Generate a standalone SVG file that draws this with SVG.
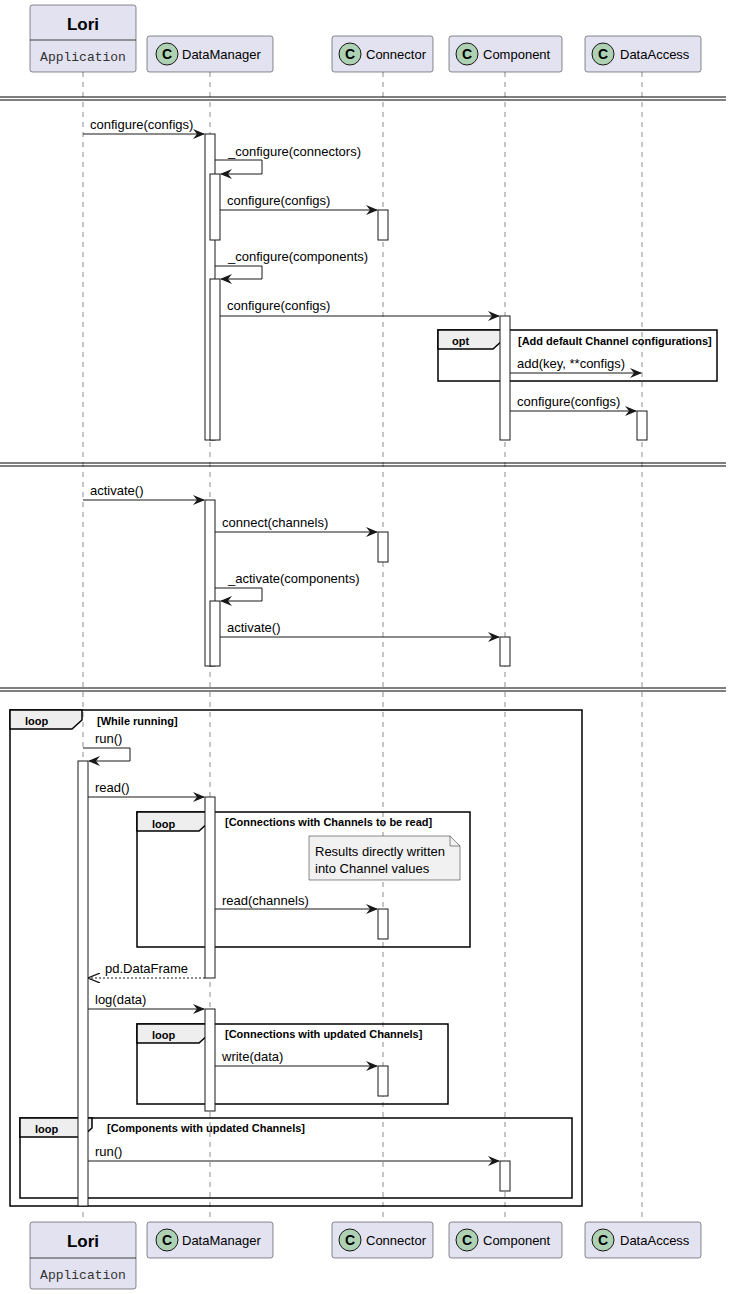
<svg xmlns="http://www.w3.org/2000/svg" width="732" height="1294" viewBox="0 0 732 1294">
<style>
.hd{fill:#E2E2F0;stroke:#181818;stroke-width:0.5}
.t{font-family:"Liberation Sans",Arial,sans-serif;font-size:13px;fill:#000}
.b{font-family:"Liberation Sans",Arial,sans-serif;font-size:11px;font-weight:bold;fill:#000}
.ll{stroke:#181818;stroke-width:0.5;stroke-dasharray:5,5}
.act{fill:#fff;stroke:#181818;stroke-width:1}
.m{stroke:#181818;stroke-width:1;fill:none}
.fr{fill:none;stroke:#000;stroke-width:1.5}
.tab{fill:#EEEEEE;stroke:#000;stroke-width:1.5}
.sep{stroke:#000;stroke-width:1.2}
</style>
<defs>
<marker id="a" viewBox="0 0 12 10" refX="11" refY="5" markerWidth="12" markerHeight="10" markerUnits="userSpaceOnUse" orient="auto"><path d="M0,0 L12,5 L0,10 L4,5 Z" fill="#181818"/></marker>
<marker id="o" viewBox="0 0 12 10" refX="11" refY="5" markerWidth="12" markerHeight="10" markerUnits="userSpaceOnUse" orient="auto"><path d="M0,0 L12,5 L0,10" fill="none" stroke="#181818" stroke-width="1.3"/></marker>
<g id="ci"><circle r="11" fill="#ADD1B2" stroke="#181818" stroke-width="1"/><text x="0" y="5" text-anchor="middle" font-family="Liberation Sans,Arial,sans-serif" font-size="14" font-weight="bold">C</text></g>
</defs>
<g id="lifelines">
<line class="ll" x1="83" y1="72" x2="83" y2="1222"/>
<line class="ll" x1="210" y1="72" x2="210" y2="1222"/>
<line class="ll" x1="383" y1="72" x2="383" y2="1222"/>
<line class="ll" x1="505" y1="72" x2="505" y2="1222"/>
<line class="ll" x1="642" y1="72" x2="642" y2="1222"/>
</g>
<g id="separators">
<line class="sep" x1="0" y1="97" x2="726" y2="97"/><line class="sep" x1="0" y1="100" x2="726" y2="100"/>
<line class="sep" x1="0" y1="463" x2="726" y2="463"/><line class="sep" x1="0" y1="466" x2="726" y2="466"/>
<line class="sep" x1="0" y1="688" x2="726" y2="688"/><line class="sep" x1="0" y1="691" x2="726" y2="691"/>
</g>
<g id="participants">
<g id="lori-top"><rect class="hd" x="30" y="5" width="106" height="67" rx="2.5"/><line x1="30" y1="40" x2="136" y2="40" stroke="#181818" stroke-width="0.8"/><text x="83" y="30" text-anchor="middle" font-family="Liberation Sans,Arial,sans-serif" font-size="17" font-weight="bold">Lori</text><text x="83" y="61" text-anchor="middle" font-family="Liberation Mono,monospace" font-size="13" fill="#333">Application</text></g>
<g id="dm-top"><rect class="hd" x="147" y="36" width="126" height="36" rx="2.5"/><use href="#ci" x="167" y="54"/><text class="t" x="182" y="59">DataManager</text></g>
<g id="conn-top"><rect class="hd" x="332" y="36" width="101" height="36" rx="2.5"/><use href="#ci" x="350" y="54"/><text class="t" x="366" y="59">Connector</text></g>
<g id="comp-top"><rect class="hd" x="449" y="36" width="113" height="36" rx="2.5"/><use href="#ci" x="467" y="54"/><text class="t" x="483" y="59">Component</text></g>
<g id="da-top"><rect class="hd" x="585" y="36" width="116" height="36" rx="2.5"/><use href="#ci" x="603" y="54"/><text class="t" x="620" y="59">DataAccess</text></g>
<g id="lori-bot"><rect class="hd" x="30" y="1222" width="106" height="67" rx="2.5"/><line x1="30" y1="1258" x2="136" y2="1258" stroke="#181818" stroke-width="0.8"/><text x="83" y="1247" text-anchor="middle" font-family="Liberation Sans,Arial,sans-serif" font-size="17" font-weight="bold">Lori</text><text x="83" y="1279" text-anchor="middle" font-family="Liberation Mono,monospace" font-size="13" fill="#333">Application</text></g>
<g id="dm-bot"><rect class="hd" x="147" y="1222" width="126" height="36" rx="2.5"/><use href="#ci" x="167" y="1240"/><text class="t" x="182" y="1245">DataManager</text></g>
<g id="conn-bot"><rect class="hd" x="332" y="1222" width="101" height="36" rx="2.5"/><use href="#ci" x="350" y="1240"/><text class="t" x="366" y="1245">Connector</text></g>
<g id="comp-bot"><rect class="hd" x="449" y="1222" width="113" height="36" rx="2.5"/><use href="#ci" x="467" y="1240"/><text class="t" x="483" y="1245">Component</text></g>
<g id="da-bot"><rect class="hd" x="585" y="1222" width="116" height="36" rx="2.5"/><use href="#ci" x="603" y="1240"/><text class="t" x="620" y="1245">DataAccess</text></g>
</g>
<g id="frames">
<rect class="fr" x="438" y="330" width="279" height="51"/><path class="tab" d="M438,330 H503 V340 L493,349 H438 Z"/><text class="b" x="452" y="345" font-size="13">opt</text><text class="b" x="518" y="345">[Add default Channel configurations]</text>
<rect class="fr" x="10" y="710" width="572" height="496"/><path class="tab" d="M10,710 H82 V720 L72,729 H10 Z"/><text class="b" x="25" y="725" font-size="13">loop</text><text class="b" x="97" y="725">[While running]</text>
<rect class="fr" x="137" y="812" width="333" height="135"/><path class="tab" d="M137,812 H209 V822 L199,831 H137 Z"/><text class="b" x="152" y="828" font-size="13">loop</text><text class="b" x="225" y="826">[Connections with Channels to be read]</text>
<rect class="fr" x="137" y="1024" width="311" height="80"/><path class="tab" d="M137,1024 H209 V1034 L199,1043 H137 Z"/><text class="b" x="152" y="1039" font-size="13">loop</text><text class="b" x="225" y="1038">[Connections with updated Channels]</text>
<rect class="fr" x="20" y="1118" width="552" height="80"/><path class="tab" d="M20,1118 H92 V1128 L82,1137 H20 Z"/><text class="b" x="35" y="1133" font-size="13">loop</text><text class="b" x="107" y="1132">[Components with updated Channels]</text>
<g id="note"><path d="M309,836 H450 L460,846 V880 H309 Z" fill="#F1F1F1" stroke="#181818" stroke-width="0.5"/><path d="M450,836 V846 H460" fill="none" stroke="#181818" stroke-width="0.5"/><text class="t" x="315" y="856">Results directly written</text><text class="t" x="315" y="873">into Channel values</text></g>
</g>
<g id="activations">
<rect class="act" x="205" y="134" width="10" height="306"/>
<rect class="act" x="210" y="174" width="10" height="66"/>
<rect class="act" x="210" y="279" width="10" height="161"/>
<rect class="act" x="378" y="210" width="10" height="30"/>
<rect class="act" x="500" y="316" width="10" height="124"/>
<rect class="act" x="637" y="411" width="10" height="29"/>
<rect class="act" x="205" y="500" width="10" height="166"/>
<rect class="act" x="210" y="601" width="10" height="65"/>
<rect class="act" x="378" y="532" width="10" height="30"/>
<rect class="act" x="500" y="637" width="10" height="29"/>
<rect class="act" x="78" y="761" width="10" height="445"/>
<rect class="act" x="205" y="797" width="10" height="181"/>
<rect class="act" x="378" y="909" width="10" height="30"/>
<rect class="act" x="205" y="1009" width="10" height="102"/>
<rect class="act" x="378" y="1066" width="10" height="30"/>
<rect class="act" x="500" y="1161" width="10" height="30"/>
</g>
<g id="connectors">
<line class="m" x1="83" y1="134" x2="204" y2="134" marker-end="url(#a)"/><text class="t" x="90" y="129">configure(configs)</text>
<path class="m" d="M215,160 H262 V174 H221" marker-end="url(#a)"/><text class="t" x="228" y="156">_configure(connectors)</text>
<line class="m" x1="220" y1="210" x2="377" y2="210" marker-end="url(#a)"/><text class="t" x="227" y="205">configure(configs)</text>
<path class="m" d="M215,266 H262 V279 H221" marker-end="url(#a)"/><text class="t" x="228" y="261">_configure(components)</text>
<line class="m" x1="220" y1="316" x2="499" y2="316" marker-end="url(#a)"/><text class="t" x="227" y="310">configure(configs)</text>
<line class="m" x1="510" y1="373" x2="641" y2="373" marker-end="url(#a)"/><text class="t" x="517" y="368">add(key, **configs)</text>
<line class="m" x1="510" y1="411" x2="636" y2="411" marker-end="url(#a)"/><text class="t" x="517" y="406">configure(configs)</text>
<line class="m" x1="83" y1="500" x2="204" y2="500" marker-end="url(#a)"/><text class="t" x="90" y="495">activate()</text>
<line class="m" x1="215" y1="532" x2="377" y2="532" marker-end="url(#a)"/><text class="t" x="222" y="527">connect(channels)</text>
<path class="m" d="M215,588 H262 V601 H221" marker-end="url(#a)"/><text class="t" x="228" y="583">_activate(components)</text>
<line class="m" x1="220" y1="637" x2="499" y2="637" marker-end="url(#a)"/><text class="t" x="227" y="632">activate()</text>
<path class="m" d="M83,748 H130 V761 H89" marker-end="url(#a)"/><text class="t" x="95" y="743">run()</text>
<line class="m" x1="88" y1="797" x2="204" y2="797" marker-end="url(#a)"/><text class="t" x="95" y="792">read()</text>
<line class="m" x1="215" y1="909" x2="377" y2="909" marker-end="url(#a)"/><text class="t" x="222" y="905">read(channels)</text>
<line class="m" x1="205" y1="978" x2="89" y2="978" stroke-dasharray="2,2" marker-end="url(#o)"/><text class="t" x="105" y="973">pd.DataFrame</text>
<line class="m" x1="88" y1="1009" x2="204" y2="1009" marker-end="url(#a)"/><text class="t" x="95" y="1004">log(data)</text>
<line class="m" x1="215" y1="1066" x2="377" y2="1066" marker-end="url(#a)"/><text class="t" x="222" y="1061">write(data)</text>
<line class="m" x1="88" y1="1161" x2="499" y2="1161" marker-end="url(#a)"/><text class="t" x="95" y="1156">run()</text>
</g>
</svg>
